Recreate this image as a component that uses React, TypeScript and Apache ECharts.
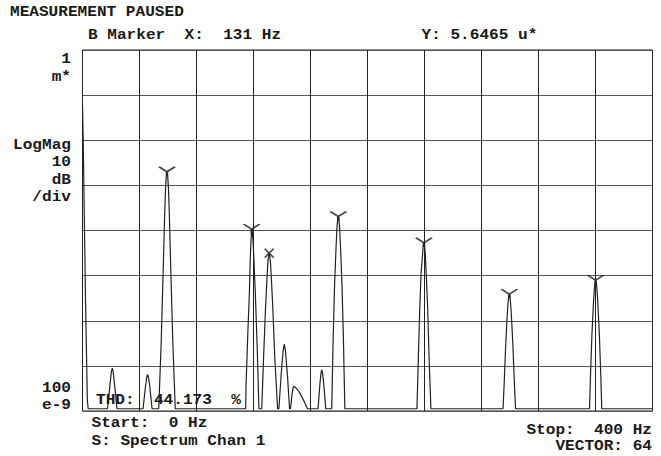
import React, { useEffect, useRef } from "react";
import * as echarts from "echarts";

// Axis range (dB, 10 dB/div) and frequency span
const freqStartHz = 0;
const freqStopHz = 400;
const freqDivHz = 40;
const dbTop = -60;
const dbBottom = -140;
const dbDiv = 10;

// Spectrum trace
const traceHz = [
  0, 0.5, 1.1, 2.1, 3.4, 4.0,
  17.5, 19.2, 20.3, 20.9, 21.5, 22.6, 24.2,
  42.5, 44.1, 45.1, 45.7, 46.3, 47.3, 48.8,
  53.5, 55.2, 56.7, 57.7, 58.3, 58.8, 59.3, 59.8, 60.3, 60.9, 61.9, 63.4, 65.1,
  114.5, 114.8, 116.1, 117.1, 117.7, 118.2, 118.7, 119.2, 119.7, 120.3, 121.3, 122.6, 123.8,
  125.8, 127.1, 128.4, 129.4, 130.0, 130.5, 131.0, 131.5, 132.0, 132.6, 133.6, 134.9, 136.9,
  137.8, 139.4, 140.8, 141.6, 142.4, 143.8, 145.3,
  146.0, 147.0, 147.8, 148.4, 149.5, 151.0, 152.6, 154.5, 156.1, 157.8,
  165.3, 166.6, 167.4, 167.9, 168.4, 169.3, 170.7,
  174.9, 175.9, 176.9, 177.9, 178.5, 179.0, 179.5, 180.0, 180.5, 181.1, 182.1, 183.1, 184.1,
  234.7, 235.7, 236.7, 237.6, 238.6, 239.1, 239.6, 240.1, 240.6, 241.2, 242.2, 243.2, 244.5,
  295.1, 295.9, 296.9, 297.9, 298.5, 299.0, 299.5, 300.0, 300.5, 301.1, 302.1, 303.1, 303.9,
  355.8, 356.5, 357.5, 358.5, 359.1, 359.6, 360.1, 360.6, 361.1, 361.7, 362.7, 363.7, 364.4,
  400,
];
const traceDb = [
  -72.4, -80, -93, -115, -137.6, -139.5,
  -139.5, -134.5, -131.2, -130.5, -131.2, -134.5, -139.5,
  -139.5, -134.8, -132.5, -131.9, -132.5, -134.8, -139.5,
  -139.5, -125, -108, -96, -90.5, -88, -87, -88, -90.5, -96, -108, -125, -139.5,
  -139.5, -134, -122, -114, -106.5, -102.5, -99.7, -100.5, -102.5, -106.5, -114, -126, -139.5,
  -139.5, -128, -117.5, -111, -107.5, -105.8, -105, -105.8, -107.5, -111, -117.5, -128, -139.5,
  -139.5, -132, -126.6, -125.2, -126.6, -132, -139.5,
  -139.5, -136.3, -134.8, -134.5, -134.8, -135.3, -136.1, -137.2, -138.3, -139.5,
  -139.5, -134, -131.5, -130.9, -131.5, -134, -139.5,
  -139.5, -124, -112, -104, -99.8, -97.7, -96.9, -97.7, -99.8, -104, -112, -124, -139.5,
  -139.5, -128, -117, -109.5, -105.5, -103.5, -102.7, -103.5, -105.5, -109.5, -117, -128, -139.5,
  -139.5, -134, -126, -119.5, -116.5, -114.8, -114.1, -114.8, -116.5, -119.5, -126, -134, -139.5,
  -139.5, -132, -123, -116.5, -113.3, -111.7, -111, -111.7, -113.3, -116.5, -123, -132, -139.5,
  -139.5,
];

// Peak markers
const harmonicHz = [59.3, 118.7, 179.5, 239.6, 299.5, 360.1];
const harmonicDb = [-87, -99.7, -96.9, -102.7, -114.1, -111];
const markerBHz = [131];
const markerBDb = [-105];

// Texts
const titleText = "MEASUREMENT PAUSED";
const markerXText = "B Marker  X:  131 Hz";
const markerYText = "Y: 5.6465 u*";
const topScaleLabels = ["1", "m*"];
const unitLabels = ["LogMag", "10", "dB", "/div"];
const bottomScaleLabels = ["100", "e-9"];
const thdText = "THD:  44.173  %";
const startText = "Start:  0 Hz";
const sourceText = "S: Spectrum Chan 1";
const stopText = "Stop:  400 Hz";
const vectorText = "VECTOR: 64";

const FONT = 'bold 14px "Liberation Mono", "DejaVu Sans Mono", monospace';
const SX = 1.15;
const INK = "#1a1a1a";

function txt(text: string, x: number, y: number, align: string = "left") {
  return {
    type: "text",
    x,
    y,
    scaleX: SX,
    z: 100,
    style: {
      text,
      font: FONT,
      fill: INK,
      align,
      textAlign: align,
      verticalAlign: "middle",
      textVerticalAlign: "middle",
    },
  };
}

export default function App() {
  const ref = useRef<HTMLDivElement>(null);
  useEffect(() => {
    if (!ref.current) return;
    const chart = echarts.init(ref.current, undefined, { renderer: "svg" });
    const trace = traceHz.map((h, i) => [h, traceDb[i]]);
    const harm = harmonicHz.map((h, i) => [h, harmonicDb[i]]);
    const mb = markerBHz.map((h, i) => [h, markerBDb[i]]);

    const graphics: any[] = [
      txt(titleText, 10, 12),
      txt(markerXText, 88, 35.5),
      txt(markerYText, 421.5, 35.5),
      txt(topScaleLabels[0], 71, 59, "right"),
      txt(topScaleLabels[1], 71, 77, "right"),
      ...unitLabels.map((t, i) => txt(t, 71, 145 + i * 17.5, "right")),
      txt(bottomScaleLabels[0], 71, 388, "right"),
      txt(bottomScaleLabels[1], 71, 405, "right"),
      txt(thdText, 96, 400),
      txt(startText, 91.5, 423),
      txt(sourceText, 91.5, 441),
      txt(stopText, 652, 430, "right"),
      txt(vectorText, 652, 446, "right"),
    ];

    chart.setOption({
      animation: false,
      backgroundColor: "#ffffff",
      grid: {
        left: 82.5,
        right: 8.5,
        top: 50,
        bottom: 45,
        show: true,
        borderColor: "#222",
        borderWidth: 1,
        backgroundColor: "transparent",
      },
      xAxis: {
        type: "value",
        min: freqStartHz,
        max: freqStopHz,
        interval: freqDivHz,
        axisLabel: { show: false },
        axisTick: { show: false },
        axisLine: { show: false },
        splitLine: { show: true, lineStyle: { color: "#222", width: 1 } },
      },
      yAxis: {
        type: "value",
        min: dbBottom,
        max: dbTop,
        interval: dbDiv,
        axisLabel: { show: false },
        axisTick: { show: false },
        axisLine: { show: false },
        splitLine: { show: true, lineStyle: { color: "#555", width: 1 } },
      },
      series: [
        {
          type: "line",
          data: trace,
          showSymbol: false,
          symbol: "none",
          lineStyle: { color: "#222", width: 1.2 },
          z: 5,
        },
        {
          type: "scatter",
          data: harm,
          symbol: "path://M-8,-5L0,0L8,-5M0,0L0,4",
          symbolSize: [16, 9],
          symbolOffset: [0, -0.5],
          itemStyle: { color: "none", borderColor: "#222", borderWidth: 1.9 },
          z: 6,
        },
        {
          type: "scatter",
          data: mb,
          symbol: "path://M-5,-5L5,5M5,-5L-5,5",
          symbolSize: [9, 9],
          itemStyle: { color: "none", borderColor: "#222", borderWidth: 1.6 },
          z: 6,
        },
      ],
      graphic: graphics,
    });
    return () => chart.dispose();
  }, []);
  return (
    <div
      ref={ref}
      style={{ position: "fixed", left: 0, top: 0, width: 661, height: 456, background: "#fff" }}
    />
  );
}
